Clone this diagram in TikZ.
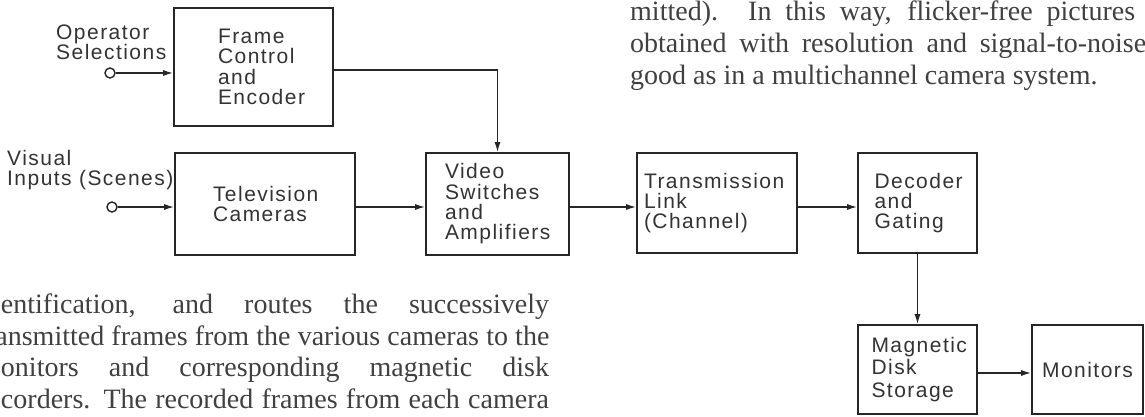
\documentclass[tikz,border=0pt]{standalone}
\usepackage{fontspec}
\setmainfont{Liberation Serif}
\newfontfamily\lblfont[LetterSpace=7]{Liberation Sans}
\usetikzlibrary{arrows.meta}
\tikzset{
  blk/.style={draw=black!85,line width=1.7pt,inner xsep=0pt,align=left,text=black!80,font=\lblfont\fontsize{21}{20.3}\selectfont},
  lbl/.style={align=left,inner sep=0pt,text=black!80,font=\lblfont\fontsize{21}{20.3}\selectfont},
  conn/.style={draw=black!85,-{Latex[length=10pt,width=6pt]},line width=1.4pt},
  port/.style={circle,draw=black!85,line width=1.4pt,inner sep=0pt,minimum size=10pt},
  prose/.style={anchor=base west,inner sep=0pt,text=black!75,font=\fontsize{28}{32}\selectfont}
}
\begin{document}
\begin{tikzpicture}[x=1pt,y=-1pt]
\useasboundingbox (0,0) rectangle (1145,417);
\clip (0,0) rectangle (1145,417);
\node[blk,minimum width=159pt,minimum height=118pt,text width=71pt] (fc) at (253.5,67) {Frame\\Control\\and\\Encoder};
\node[lbl,anchor=west] (ops) at (56,42) {Operator\\Selections};
\node[port] (opin) at (110,73) {};
\node[lbl,anchor=west] (vis) at (7,170) {Visual\\Inputs (Scenes)};
\node[port] (vin) at (112,207) {};
\node[blk,minimum width=180pt,minimum height=102pt,text width=104pt] (tv) at (265,204) {Television\\Cameras};
\node[blk,minimum width=143pt,minimum height=102pt,text width=105pt] (vid) at (497.5,204) {Video\\Switches\\and\\Amplifiers};
\node[blk,minimum width=160pt,minimum height=100pt,text width=146pt] (tr) at (717,203) {Transmission\\Link\\(Channel)};
\node[blk,minimum width=119pt,minimum height=100pt,text width=86pt] (dec) at (917.5,203) {Decoder\\and\\Gating\\[3pt]};
\node[blk,minimum width=119pt,minimum height=89pt,text width=92pt,font=\lblfont\fontsize{21}{22.5}\selectfont] (mag) at (917.5,369.5) {Magnetic\\Disk\\Storage};
\node[blk,align=center,minimum width=111pt,minimum height=89pt] (mon) at (1087.5,369.5) {Monitors};
\draw[conn] (opin) -- (opin -| fc.west);
\draw[conn] (vin) -- (vin -| tv.west);
\draw[conn] ([yshift=-3pt]fc.east) -| (vid.north);
\draw[conn] (tv.east |- vin) -- (vin -| vid.west);
\draw[conn] (vid.east |- vin) -- (vin -| tr.west);
\draw[conn] (tr.east |- vin) -- (vin -| dec.west);
\draw[conn] (dec.south) -- (mag.north);
\draw[conn] ([yshift=-3.5pt]mag.east) -- ([yshift=-3.5pt]mon.west);
\node[prose] (p1) at (630,21) {\makebox[505pt][s]{mitted). In this way, flicker-free pictures}};
\node[prose] (p2) at (630,53) {\makebox[516pt][s]{obtained with resolution and signal-to-noise}};
\node[prose] (p3) at (630,85) {good as in a multichannel camera system.};
\node[prose] (q1) at (0.8,313) {\makebox[548pt][s]{entification, and routes the successively}};
\node[prose] (q2) at (-4.8,345) {\makebox[554pt][s]{ansmitted frames from the various cameras to the}};
\node[prose] (q3) at (0.8,376) {\makebox[548pt][s]{onitors and corresponding magnetic disk}};
\node[prose] (q4) at (0.8,408) {\makebox[548pt][s]{corders. The recorded frames from each camera}};
\end{tikzpicture}
\end{document}
